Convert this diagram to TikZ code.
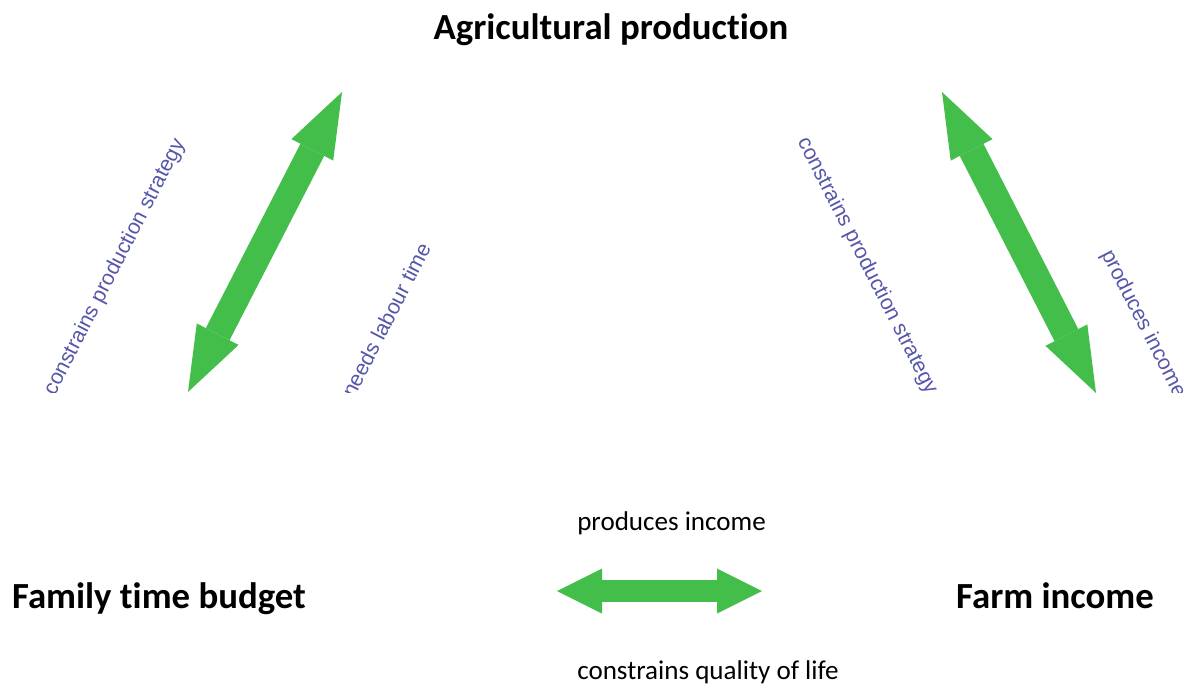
\documentclass[tikz,border=0pt]{standalone}
\usepackage{fontspec}
\setmainfont{Carlito}[Ligatures=NoCommon]
\newfontfamily\linkfont{Liberation Sans}
\usetikzlibrary{arrows.meta}

\definecolor{arrowgreen}{RGB}{68,190,74}
\definecolor{linkblue}{RGB}{86,86,170}

\tikzset{
  concept/.style={font=\bfseries\fontsize{27.6}{33}\selectfont, inner sep=0pt, anchor=base},
  relation/.style={font=\fontsize{20.3}{24}\selectfont, inner sep=0pt, anchor=base west},
  slanted/.style={font=\linkfont\fontsize{16}{19}\selectfont, text=linkblue, inner sep=0pt},
  bigarrow/.style={arrowgreen, line width=20pt,
    {Triangle[length=48.75pt,width=35.25pt,line width=0pt]}-{Triangle[length=48.75pt,width=35.25pt,line width=0pt]}},
  flatarrow/.style={arrowgreen, line width=17pt,
    {Triangle[length=33.75pt,width=33.75pt,line width=0pt]}-{Triangle[length=33.75pt,width=33.75pt,line width=0pt]}}
}

\begin{document}
\begin{tikzpicture}[x=0.75pt, y=-0.75pt]
    \useasboundingbox (0,0) rectangle (1187,686);

    % concepts
    \node[concept] (agri) at (611,39) {Agricultural production};
    \node[concept] (family) at (159,608) {Family time budget};
    \node[concept] (farm) at (1055,608) {Farm income};

    % arrow ends
    \coordinate (agriL) at (342,92);
    \coordinate (familyT) at (188,392);
    \coordinate (agriR) at (942,92);
    \coordinate (farmT) at (1096,393);
    \coordinate (familyR) at (557,591);
    \coordinate (farmL) at (762,591);

    \draw[bigarrow] (familyT) -- (agriL);
    \draw[bigarrow] (agriR) -- (farmT);
    \draw[flatarrow] (familyR) -- (farmL);

    % relations along the bottom arrow
    \node[relation] (incomeA) at (577,530) {produces income};
    \node[relation] (quality) at (577,679) {constrains quality of life};

    % slanted relations, cut off at the arrow ends
    \begin{scope}
        \clip (0,0) rectangle (1187,392);
        \node[slanted, rotate=62.8] (strategyL) at (115,267) {constrains production strategy};
        \node[slanted, rotate=62.8] (labour) at (386,320) {needs labour time};
        \node[slanted, rotate=-62.9] (strategyR) at (867,266) {constrains production strategy};
        \node[slanted, rotate=-62.9] (incomeB) at (1143,324) {produces income};
    \end{scope}
\end{tikzpicture}
\end{document}
